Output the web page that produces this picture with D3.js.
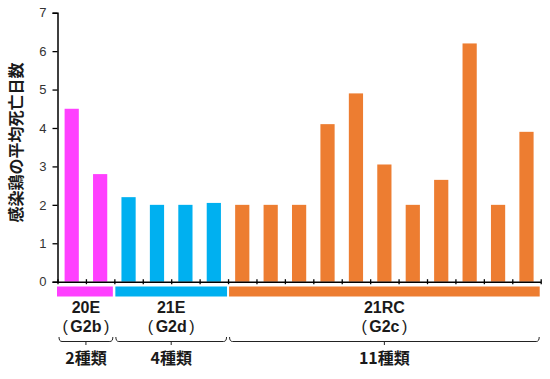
<!DOCTYPE html>
<html><head><meta charset="utf-8">
<script src="https://cdn.jsdelivr.net/npm/d3@7"></script>
<style>body{margin:0;background:#fff;}svg{display:block;}</style>
</head><body>
<svg id="c" width="550" height="379"></svg>
<script>
const values = [4.5, 2.8, 2.2, 2.0, 2.0, 2.05, 2.0, 2.0, 2.0, 4.1, 4.9, 3.05, 2.0, 2.65, 6.2, 2.0, 3.9];
const groupOf = [0,0,1,1,1,1,2,2,2,2,2,2,2,2,2,2,2];
const groupNames = ["20E", "21E", "21RC"];
const groupSub = ["G2b", "G2d", "G2c"];
const groupCounts = ["2種類", "4種類", "11種類"];
const groupColors = ["#FF40FF", "#00B0F0", "#ED7D31"];
const yTicks = [0,1,2,3,4,5,6,7];
const yTitle = "感染鶏の平均死亡日数";

(function(){
const svg = d3.select("#c");
const pL = 57.5, pR = 540.7, pT = 12.7, pB = 281.7;
const idx = values.map((d,i)=>i);
const x = d3.scaleBand().domain(idx).range([pL, pR]).paddingInner(0.5).paddingOuter(0.25);
const xs = d3.scaleLinear().domain([0, values.length]).range([pL, pR]);
const y = d3.scaleLinear().domain([0, 7]).range([pB, pT]);
const jp = "'Noto Sans CJK JP', sans-serif";
const lat = "'Liberation Sans', Arial, sans-serif";

svg.append("g").selectAll("rect").data(values).join("rect")
  .attr("x", (d,i)=>x(i)).attr("width", x.bandwidth())
  .attr("y", d=>y(d)).attr("height", d=>pB - y(d))
  .attr("fill", (d,i)=>groupColors[groupOf[i]]);

const ya = svg.append("g").attr("transform", `translate(${pL},0)`)
  .call(d3.axisLeft(y).tickValues(yTicks).tickSize(5).tickPadding(6).tickFormat(d3.format("d")));
ya.select(".domain").attr("stroke", "#000").attr("stroke-width", 1.5);
ya.selectAll(".tick line").attr("stroke", "#000").attr("stroke-width", 1.3);
ya.selectAll(".tick text").attr("font-family", lat).attr("font-size", 13).attr("fill", "#333");

const xa = svg.append("g").attr("transform", `translate(0,${pB})`)
  .call(d3.axisBottom(xs).tickValues(d3.range(values.length+1)).tickSize(0).tickFormat(""));
xa.select(".domain").attr("stroke", "#000").attr("stroke-width", 1.5);
xa.selectAll(".tick line").attr("y1", -2.5).attr("y2", 2.5).attr("stroke", "#000").attr("stroke-width", 1.3);

const groups = groupNames.map((n,g)=>{
  const ids = idx.filter(i=>groupOf[i]===g);
  return {g, start: d3.min(ids), end: d3.max(ids)+1};
});
const gg = svg.append("g");
const lbl = (sel, fam, fs)=>sel.attr("text-anchor","middle").attr("font-family", fam).attr("font-weight", "bold")
  .attr("font-size", fs).attr("fill","#1a1a1a");
groups.forEach(G=>{
  const x0 = xs(G.start), x1 = xs(G.end);
  gg.append("rect").attr("x", x0 + (G.g===0?-0.5:1)).attr("y", 286.5)
    .attr("width", x1 - x0 - (G.g===0?1:2)).attr("height", 10)
    .attr("fill", groupColors[G.g]);
  const cx = (x0 + x1)/2;
  gg.append("text").attr("x", cx).attr("y", 313.3).call(lbl, lat, 16).text(groupNames[G.g]);
  const t2 = gg.append("text").attr("x", cx).attr("y", 331.7).call(lbl, lat, 16);
  t2.append("tspan").attr("font-weight","normal").text("(");
  t2.append("tspan").attr("dx", 2.5).text(groupSub[G.g]);
  t2.append("tspan").attr("dx", 2.5).attr("font-weight","normal").text(")");
  const bx0 = x0 + 1.5, bx1 = x1 - 1.5, yt = 337, yb = 341.5;
  const p = `M${bx0},${yt} Q${bx0},${yb} ${bx0+3},${yb} L${bx1-3},${yb} Q${bx1},${yb} ${bx1},${yt} M${cx},${yb} L${cx},${yb+3.5}`;
  gg.append("path").attr("d", p).attr("fill","none").attr("stroke","#222").attr("stroke-width",1);
  gg.append("text").attr("x", cx).attr("y", 363.5).call(lbl, jp, 16).text(groupCounts[G.g]);
});

svg.append("text").attr("transform", `translate(15,142.5) rotate(-90)`)
  .attr("text-anchor","middle").attr("dominant-baseline","central").attr("font-family", jp).attr("font-weight","bold")
  .attr("font-size", 16).attr("fill","#1a1a1a").text(yTitle);
})();
</script>
</body></html>
